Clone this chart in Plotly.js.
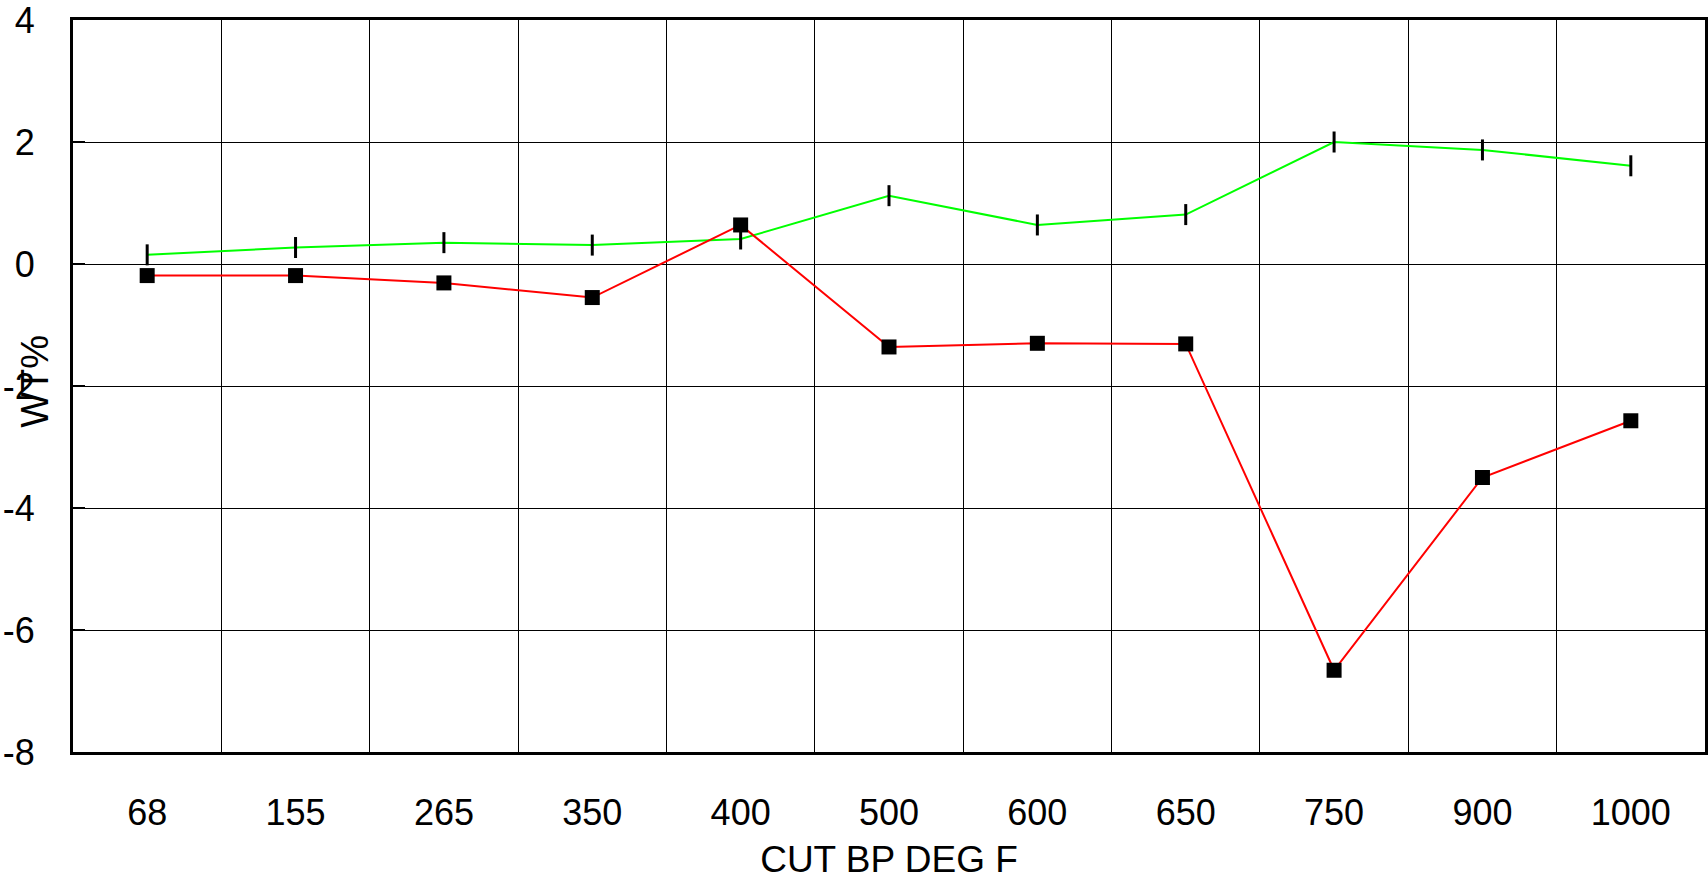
<!DOCTYPE html>
<html>
<head>
<meta charset="utf-8">
<script src="https://cdn.plot.ly/plotly-3.0.1.min.js"></script>
<style>html,body{margin:0;padding:0;background:#fff;}#chart{width:1708px;height:882px;}</style>
</head>
<body>
<div id="chart"></div>
<script>
const categories = ["68", "155", "265", "350", "400", "500", "600", "650", "750", "900", "1000"];
const greenValues = [0.15, 0.27, 0.35, 0.31, 0.41, 1.12, 0.64, 0.81, 2.0, 1.87, 1.61];
const redValues = [-0.19, -0.19, -0.31, -0.55, 0.64, -1.36, -1.30, -1.31, -6.66, -3.50, -2.57];
const yTickValues = [-8, -6, -4, -2, 0, 2, 4];

const family = "Liberation Sans, Arial, sans-serif";
const tickFont = {family: family, size: 36, color: "#000"};
const xTitleFont = {family: family, size: 37, color: "#000"};
const yTitleFont = {family: family, size: 38, color: "#000"};

const traces = [
  {
    x: categories, y: greenValues, type: "scatter", mode: "lines+markers",
    line: {color: "#00ff00", width: 2},
    marker: {symbol: "line-ns", size: 15, line: {color: "#000", width: 3}},
    showlegend: false, hoverinfo: "x+y"
  },
  {
    x: categories, y: redValues, type: "scatter", mode: "lines+markers",
    line: {color: "#ff0000", width: 2},
    marker: {symbol: "square", size: 15, color: "#000"},
    showlegend: false, hoverinfo: "x+y"
  }
];

const layout = {
  width: 1708, height: 882,
  margin: {l: 73, r: 3, t: 20, b: 130},
  paper_bgcolor: "#fff", plot_bgcolor: "#fff",
  font: tickFont,
  showlegend: false,
  xaxis: {
    type: "category",
    range: [-0.5, categories.length - 0.5],
    tickson: "boundaries",
    ticks: "",
    showgrid: true, gridcolor: "#000", gridwidth: 1,
    showline: true, linecolor: "#000", linewidth: 3, mirror: true,
    zeroline: false,
    ticklabelstandoff: 27,
    ticklabeloverflow: "allow",
    tickfont: tickFont,
    title: {text: "CUT BP DEG F", font: xTitleFont, standoff: 14},
    automargin: false
  },
  yaxis: {
    range: [-8, 4],
    tickvals: yTickValues,
    ticktext: yTickValues.map(String),
    ticks: "inside", ticklen: 12, tickwidth: 2, tickcolor: "#000",
    showgrid: true, gridcolor: "#000", gridwidth: 1,
    showline: true, linecolor: "#000", linewidth: 3, mirror: true,
    zeroline: false,
    ticklabelstandoff: 28,
    ticklabeloverflow: "allow",
    tickfont: tickFont,
    automargin: false
  },
  annotations: [
    {
      text: "WT%", xref: "paper", yref: "paper",
      x: -0.0233, y: 0.507, xanchor: "center", yanchor: "middle",
      textangle: -90, showarrow: false, font: yTitleFont
    }
  ]
};

Plotly.newPlot("chart", traces, layout, {displayModeBar: false, staticPlot: true});
</script>
</body>
</html>
